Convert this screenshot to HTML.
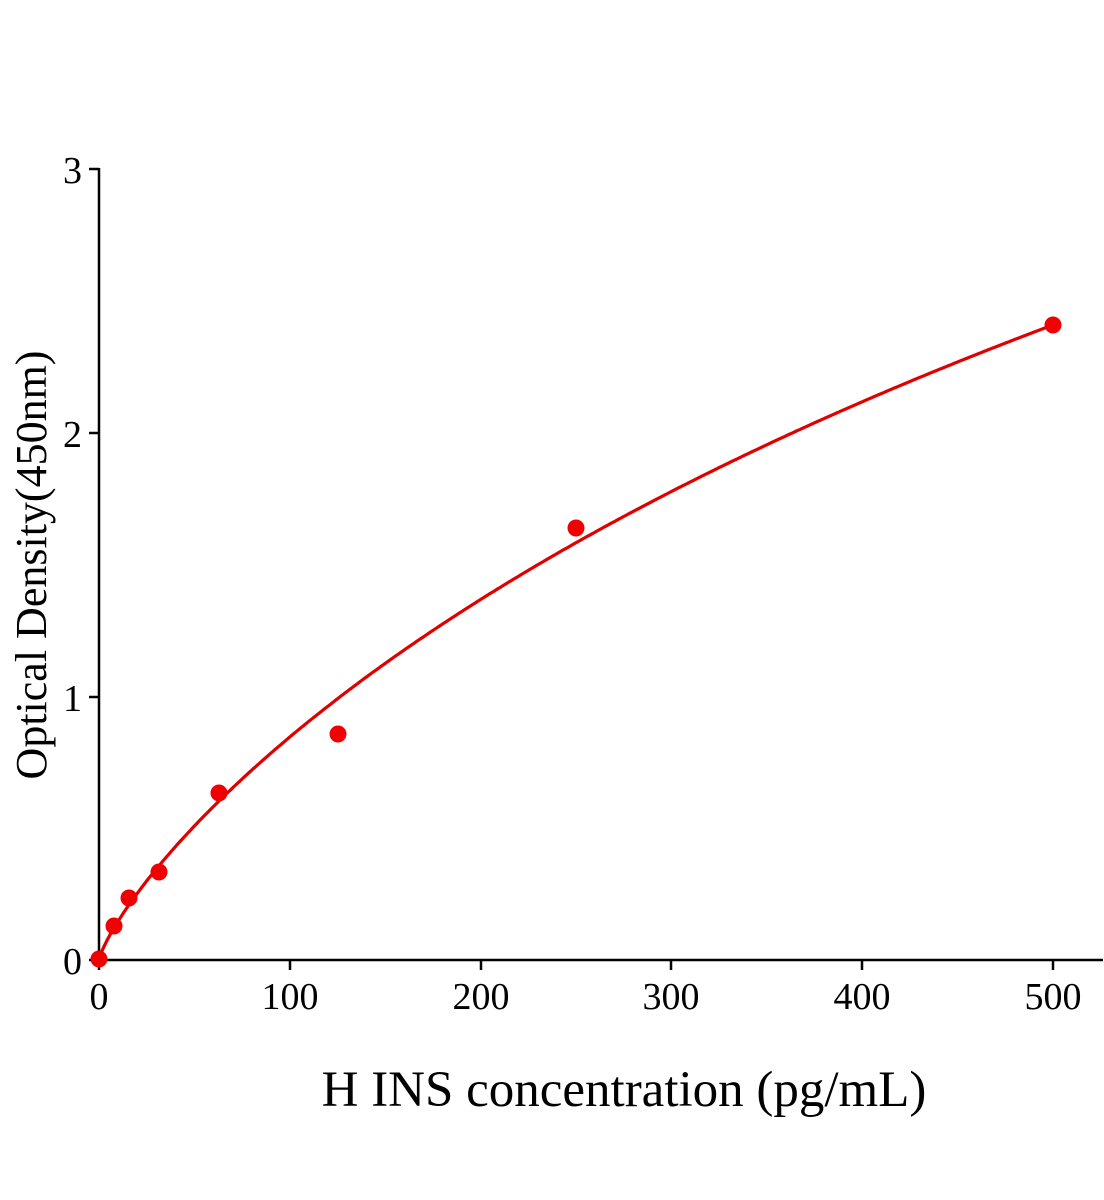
<!DOCTYPE html>
<html><head><meta charset="utf-8"><style>body{margin:0;background:#fff}svg{display:block}</style></head>
<body>
<svg id="s" width="1104" height="1200" xmlns="http://www.w3.org/2000/svg" font-family="Liberation Serif, serif">
<g stroke="#000" stroke-width="2.5" fill="none">
<line x1="99" y1="168" x2="99" y2="961"/>
<line x1="98" y1="960" x2="1103" y2="960"/>
<line x1="89" y1="169" x2="99" y2="169"/>
<line x1="89" y1="433" x2="99" y2="433"/>
<line x1="89" y1="697" x2="99" y2="697"/>
<line x1="89" y1="960" x2="99" y2="960"/>
<line x1="99" y1="960" x2="99" y2="970"/>
<line x1="290" y1="960" x2="290" y2="970"/>
<line x1="481" y1="960" x2="481" y2="970"/>
<line x1="671" y1="960" x2="671" y2="970"/>
<line x1="862" y1="960" x2="862" y2="970"/>
<line x1="1053" y1="960" x2="1053" y2="970"/>
</g>
<g font-size="38" text-anchor="end" fill="#000">
<text x="82" y="183">3</text><text x="82" y="447">2</text><text x="82" y="711">1</text><text x="82" y="974">0</text>
</g>
<g font-size="38" text-anchor="middle" fill="#000">
<text x="99" y="1009">0</text><text x="290" y="1009">100</text><text x="481" y="1009">200</text><text x="671" y="1009">300</text><text x="862" y="1009">400</text><text x="1053" y="1009">500</text>
</g>
<text x="624" y="1106" font-size="51" text-anchor="middle">H INS concentration (pg/mL)</text>
<text transform="translate(46,565) rotate(-90)" font-size="44" text-anchor="middle">Optical Density(450nm)</text>
<path id="c" fill="none" stroke="#e00000" stroke-width="3.2"/>
<g fill="#f00000">
<circle cx="99" cy="959" r="8.5"/><circle cx="114" cy="926" r="8.5"/><circle cx="129" cy="898" r="8.5"/><circle cx="159" cy="872" r="8.5"/><circle cx="219" cy="793" r="8.5"/><circle cx="338" cy="734" r="8.5"/><circle cx="576" cy="528" r="8.5"/><circle cx="1053" cy="325" r="8.5"/>
</g>
</svg>
<script>
var d="",cb=Math.pow(1480,0.8);for(var i=0;i<=500;i+=1){var x=99+i*1.908;var p=Math.pow(i,0.8);var y=960-8.146*p/(cb+p)*263.7;d+=(i?"L":"M")+x.toFixed(1)+" "+y.toFixed(1);}
document.getElementById("c").setAttribute("d",d);
</script>
</body></html>
